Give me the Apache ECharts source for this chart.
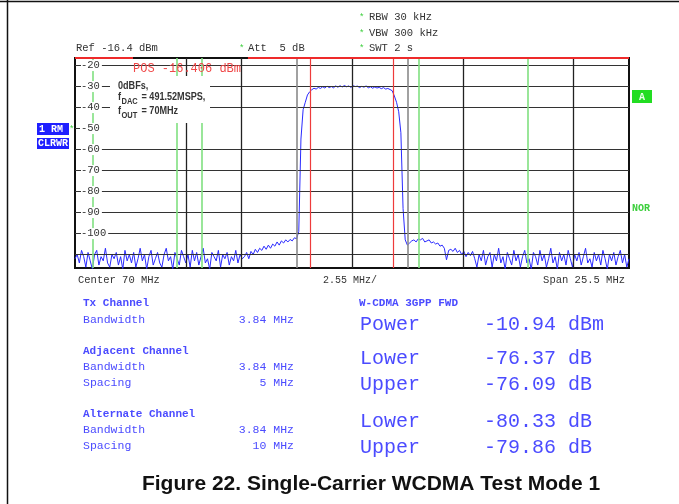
<!DOCTYPE html>
<html>
<head>
<meta charset="utf-8">
<script src="https://cdn.jsdelivr.net/npm/echarts@6/dist/echarts.min.js"></script>
<style>
  html, body { margin: 0; padding: 0; background: #fff; }
  #chart { width: 679px; height: 504px; }
</style>
</head>
<body>
<div id="chart"></div>
<script>
// analyzer settings
const centerMHz = 70
const spanMHz = 25.5
const refLevel = -16.4
const rangeDb = 100

// trace, one sample every 0.1 MHz from the left edge
const fStart = 57.25
const fStep = 0.1
const traceDbm = [
  -112, -110, -114, -108, -111, -116, -109, -113, -117, -110,
  -108, -115, -111, -113, -107, -114, -116, -110, -112, -109,
  -115, -111, -117, -108, -113, -110, -114, -109, -116, -112,
  -107, -113, -110, -117, -111, -108, -115, -112, -109, -114,
  -116, -110, -107, -113, -111, -117, -109, -112, -115, -108,
  -111, -114, -110, -116, -108, -113, -109, -115, -111, -107,
  -114, -112, -117, -109, -111, -113, -108, -116, -110, -112,
  -109, -115, -111, -113, -108, -114, -110, -112,
  // slow rise towards the carrier
  -111, -109, -112, -108.5, -110, -107.5, -109, -107, -108, -106,
  -107.5, -105.5, -107, -105, -106, -104, -105.5, -103.5, -104.5, -103,
  -104, -102.8, -103.5, -102, -102.5,
  // lower edge
  -99, -55, -41, -37.5, -34, -32.5, -31.5,
  // carrier top
  -30.8, -31.2, -30.4, -30.9, -30.1, -30.7, -29.8, -30.5, -30.0, -30.6,
  -29.7, -30.3, -29.6, -30.2, -29.5, -30.1, -29.7, -30.4, -29.6, -30.0,
  -29.8, -30.5, -29.9, -30.3, -29.7, -30.6, -30.1, -30.8, -30.2, -30.7,
  -30.4, -31.0, -30.5, -31.2, -30.9, -31.4,
  // upper edge
  -32, -34.5, -37.5, -42, -52, -88, -103, -105.5, -104.5,
  // shoulder
  -103.5, -103, -104, -102.5, -103, -102.3, -104, -103.5, -103, -104.5,
  -104, -105, -104.5, -106, -105.5, -107, -112.5, -108, -107.5, -108.5,
  -107, -109, -108, -110, -108.5, -111, -109, -110.5, -108.5, -112,
  -116, -110,
  // noise floor
  -113, -108, -115, -111, -109, -116, -110, -113, -107, -114,
  -111, -117, -109, -112, -115, -108, -113, -110, -116, -111,
  -108, -114, -112, -117, -109, -111, -115, -108, -113, -110,
  -116, -112, -107, -114, -111, -117, -109, -113, -110, -115,
  -108, -112, -116, -110, -113, -109, -115, -111, -107, -114,
  -112, -116, -109, -113, -110, -115, -108, -112, -117, -110,
  -113, -109, -115, -111, -108, -114, -110, -116, -112
]

// grid, as it shows on the screen shot (some divisions are not drawn)
const yTicks = [-20, -30, -40, -50, -60, -70, -80, -90, -100]
const hGrid = [-20, -30, -40, -60, -70, -80, -90, -100, -110]
const vGridBlack = [62.35, 64.9, 70, 75.1, 80.2]
const vGridGray = [67.45, 72.55]
// channel markers
const txLimits = [68.08, 71.92]
const adjLimits = [58.08, 61.92, 63.08, 73.08, 78.08]
const refLineSpans = [[57.25, 59.92], [65.21, 82.75]]

// result table
const leftLabels = ['Tx Channel', 'Bandwidth', 'Adjacent Channel', 'Bandwidth', 'Spacing', 'Alternate Channel', 'Bandwidth', 'Spacing']
const leftValues = ['', '3.84 MHz', '', '3.84 MHz', '5 MHz', '', '3.84 MHz', '10 MHz']
const resultLabels = ['Power', 'Lower', 'Upper', 'Lower', 'Upper']
const resultValues = ['-10.94 dBm', '-76.37 dB', '-76.09 dB', '-80.33 dB', '-79.86 dB']

const MONO = "'Liberation Mono', 'DejaVu Sans Mono', monospace"
const SANS = "'Liberation Sans', Arial, sans-serif"
const BLUE = '#4b4bff'
const GREEN = '#3ccf3c'

const xMin = centerMHz - spanMHz / 2
const xMax = centerMHz + spanMHz / 2

function txt (text, x, y, font, fill, align, sx) {
  return {
    type: 'text', z: 100, x: x, y: y, scaleX: sx || 1,
    style: { text: text, x: 0, y: 0, font: font, fill: fill, textAlign: align || 'left', textVerticalAlign: 'middle', align: align || 'left', verticalAlign: 'middle' }
  }
}
function rect (x, y, w, h, fill) {
  return { type: 'rect', z: 99, shape: { x: x, y: y, width: w, height: h }, style: { fill: fill } }
}

const leftRowY = [303, 320, 351, 367, 383, 414, 430, 446]
const resultRowY = [325, 359, 385, 422, 448]

let graphics = []
// page frame
graphics.push({ type: 'line', z: 100, shape: { x1: 0, y1: 1.5, x2: 679, y2: 1.5 }, style: { stroke: '#111', lineWidth: 1.5 } })
graphics.push({ type: 'line', z: 100, shape: { x1: 7.5, y1: 0, x2: 7.5, y2: 504 }, style: { stroke: '#111', lineWidth: 1.5 } })
// header
graphics.push(txt('*', 359, 18, '9px ' + MONO, GREEN))
graphics.push(txt('RBW 30 kHz', 369, 17, '10.5px ' + MONO, '#333'))
graphics.push(txt('*', 359, 34, '9px ' + MONO, GREEN))
graphics.push(txt('VBW 300 kHz', 369, 33, '10.5px ' + MONO, '#333'))
graphics.push(txt('*', 359, 49, '9px ' + MONO, GREEN))
graphics.push(txt('SWT 2 s', 369, 48, '10.5px ' + MONO, '#333'))
graphics.push(txt('Ref -16.4 dBm', 76, 48, '10.5px ' + MONO, '#333'))
graphics.push(txt('*', 239, 49, '9px ' + MONO, GREEN))
graphics.push(txt('Att  5 dB', 248, 48, '10.5px ' + MONO, '#333'))
// side badges
graphics.push(rect(37, 123, 32, 12, '#1f1fff'))
graphics.push(txt('1 RM', 39, 129, 'bold 10px ' + MONO, '#fff'))
graphics.push(txt('*', 69, 130, '9px ' + MONO, GREEN))
graphics.push(rect(37, 138, 32, 11, '#1f1fff'))
graphics.push(txt('CLRWR', 38, 143.5, 'bold 10px ' + MONO, '#fff'))
graphics.push(rect(632, 90, 20, 13, '#22dd22'))
graphics.push(txt('A', 642, 97, 'bold 10px ' + MONO, '#eaffea', 'center'))
graphics.push(txt('NOR', 632, 208, 'bold 10px ' + MONO, GREEN))
// marker readout and note
graphics.push(txt('POS -16.406 dBm', 133, 69, '12px ' + MONO, '#f04848'))
graphics.push(rect(110, 76, 100, 47, '#fff'))
const NOTE = 'bold 11.5px ' + SANS
const NOTE_SUB = 'bold 9.5px ' + SANS
graphics.push(txt('0dBFs,', 118, 86, NOTE, '#333', 'left', 0.79))
graphics.push(txt('f', 118, 97, NOTE, '#333', 'left', 0.79))
graphics.push(txt('DAC', 121.5, 101.5, NOTE_SUB, '#333', 'left', 0.79))
graphics.push(txt('= 491.52MSPS,', 141.5, 97, NOTE, '#333', 'left', 0.79))
graphics.push(txt('f', 118, 111, NOTE, '#333', 'left', 0.79))
graphics.push(txt('OUT', 121.5, 115.5, NOTE_SUB, '#333', 'left', 0.79))
graphics.push(txt('= 70MHz', 141.5, 111, NOTE, '#333', 'left', 0.79))
// axis footer
graphics.push(txt('Center ' + centerMHz + ' MHz', 78, 280, '10.5px ' + MONO, '#333'))
graphics.push(txt((spanMHz / 10) + ' MHz/', 323, 280, '10px ' + MONO, '#333'))
graphics.push(txt('Span ' + spanMHz + ' MHz', 625, 280, '10.5px ' + MONO, '#333', 'right'))
// tables
leftLabels.forEach(function (l, i) {
  const head = leftValues[i] === ''
  graphics.push(txt(l, 83, leftRowY[i], (head ? 'bold 11px ' : '11.5px ') + MONO, BLUE))
  if (!head) graphics.push(txt(leftValues[i], 294, leftRowY[i], '11.5px ' + MONO, BLUE, 'right'))
})
graphics.push(txt('W-CDMA 3GPP FWD', 359, 303, 'bold 11px ' + MONO, BLUE))
resultLabels.forEach(function (l, i) {
  graphics.push(txt(l, 360, resultRowY[i], '20px ' + MONO, BLUE))
  graphics.push(txt(resultValues[i], 484, resultRowY[i], '20px ' + MONO, BLUE))
})
graphics.push(txt('Figure 22. Single-Carrier WCDMA Test Mode 1', 371, 484, 'bold 21px ' + SANS, '#111', 'center'))

function vLines (vals, color, width) {
  return vals.map(function (v) { return { xAxis: v, lineStyle: { color: color, width: width, type: 'solid' } } })
}

const myChart = echarts.init(document.getElementById('chart'), null, { renderer: 'canvas' })
myChart.setOption({
  animation: false,
  backgroundColor: '#fff',
  grid: { left: 75, top: 58, width: 554, height: 210, show: true, borderColor: '#111', borderWidth: 2, backgroundColor: '#fff' },
  xAxis: {
    type: 'value', min: xMin, max: xMax,
    axisLine: { show: false }, axisTick: { show: false }, axisLabel: { show: false }, splitLine: { show: false }
  },
  yAxis: {
    type: 'value', min: refLevel - rangeDb, max: refLevel, z: 10,
    axisLine: { show: false },
    axisTick: { show: true, inside: true, length: 5, customValues: yTicks, lineStyle: { color: '#333' } },
    axisLabel: {
      inside: true, margin: 6, customValues: yTicks, fontFamily: MONO, fontSize: 10.5, color: '#333',
      backgroundColor: '#fff', padding: [0, 2, 0, 0], showMinLabel: true, showMaxLabel: true
    },
    splitLine: { show: false }
  },
  graphic: graphics,
  series: [
    {
      name: 'grid', type: 'line', data: [], z: 1, silent: true,
      markLine: {
        silent: true, symbol: 'none', animation: false, label: { show: false },
        data: hGrid.map(function (v) { return { yAxis: v, lineStyle: { color: '#333', width: 1.2, type: 'solid' } } })
          .concat(vLines(vGridBlack, '#222', 1.3))
          .concat(vLines(vGridGray, '#8a8a8a', 1.6))
      }
    },
    {
      name: 'markers', type: 'line', data: [], z: 2, silent: true,
      markLine: {
        silent: true, symbol: 'none', animation: false, label: { show: false },
        data: vLines(adjLimits, '#80e080', 1.6)
          .concat(vLines(txLimits, '#ee3b3b', 1.2))
          .concat(refLineSpans.map(function (s) {
            return [{ coord: [s[0], refLevel], lineStyle: { color: '#ee2a2a', width: 2, type: 'solid' } }, { coord: [s[1], refLevel] }]
          }))
      }
    },
    {
      name: 'trace', type: 'line', z: 3, showSymbol: false, clip: true,
      lineStyle: { color: '#2a2aff', width: 1 },
      data: traceDbm.map(function (v, i) { return [fStart + i * fStep, v] })
    }
  ]
})
</script>
</body>
</html>
